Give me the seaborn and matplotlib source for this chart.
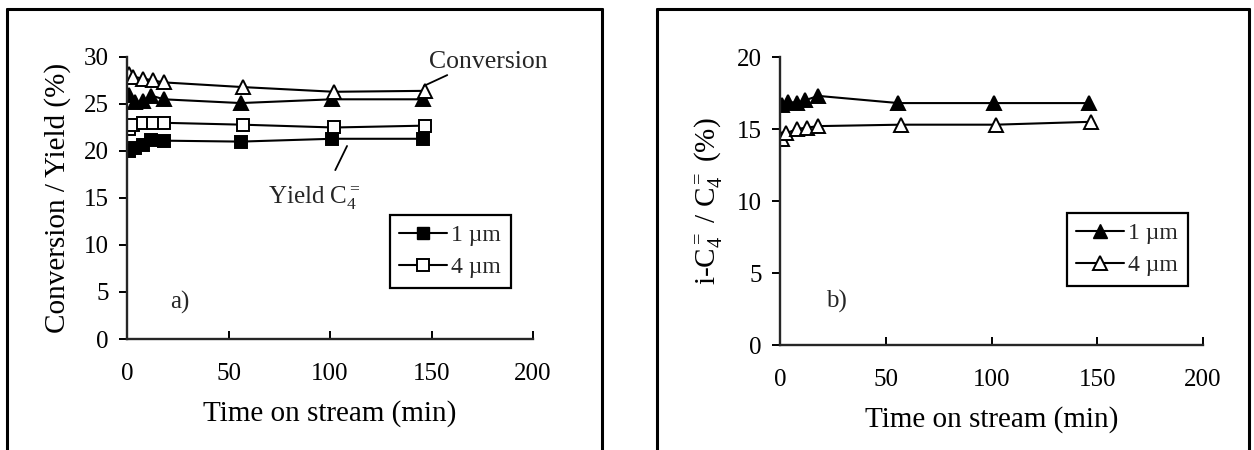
import matplotlib
matplotlib.use("Agg")
import matplotlib.pyplot as plt
import seaborn as sns
import pandas as pd
from matplotlib.lines import Line2D

sns.set_theme(style="ticks")
plt.rcParams['font.family'] = ['Liberation Serif', 'DejaVu Serif']
plt.rcParams['mathtext.fontset'] = 'custom'
plt.rcParams['mathtext.rm'] = 'Liberation Serif'
plt.rcParams['mathtext.it'] = 'Liberation Serif:italic'

# ---- data (panel a) ----
time_1um = [1, 4, 8, 12, 18, 56, 101, 146]
time_4um = [1, 3, 8, 13, 18, 57, 102, 147]
conv_1um = [26.0, 25.2, 25.3, 25.9, 25.5, 25.1, 25.5, 25.5]
conv_4um = [28.2, 27.9, 27.7, 27.5, 27.3, 26.8, 26.3, 26.4]
yield_1um = [20.0, 20.3, 20.6, 21.2, 21.1, 21.0, 21.3, 21.3]
yield_4um = [22.3, 22.8, 23.0, 23.0, 23.0, 22.8, 22.5, 22.7]
# ---- data (panel b) ----
iso_1um = [16.7, 16.9, 16.8, 17.0, 17.3, 16.8, 16.8, 16.8]
iso_4um = [14.3, 14.7, 15.0, 15.1, 15.2, 15.3, 15.3, 15.5]

xticks = [0, 50, 100, 150, 200]
yticks_a = [0, 5, 10, 15, 20, 25, 30]
yticks_b = [0, 5, 10, 15, 20]

W, H = 1254, 450
fig = plt.figure(figsize=(W / 100, H / 100), dpi=100)

def ax_rect(x0, x1, y0, y1):
    return [x0 / W, 1 - y1 / H, (x1 - x0) / W, (y1 - y0) / H]

axa = fig.add_axes(ax_rect(127, 533, 57, 339))
axb = fig.add_axes(ax_rect(780, 1203, 57, 345))

def draw(ax, x, y, marker, filled, ms):
    df = pd.DataFrame({"t": x, "v": y})
    sns.lineplot(data=df, x="t", y="v", ax=ax, color="black", lw=1.5,
                 marker=marker, markersize=ms,
                 markerfacecolor="black" if filled else "white",
                 markeredgecolor="black", markeredgewidth=1.4,
                 legend=False)

draw(axa, time_1um, conv_1um, "^", True, 10)
draw(axa, time_4um, conv_4um, "^", False, 10)
draw(axa, time_1um, yield_1um, "s", True, 9)
draw(axa, time_4um, yield_4um, "s", False, 9)

draw(axb, time_1um, iso_1um, "^", True, 10)
draw(axb, time_4um, iso_4um, "^", False, 10)

for ax, yt in ((axa, yticks_a), (axb, yticks_b)):
    ax.set_xlim(0, 200)
    ax.set_ylim(0, yt[-1])
    ax.set_xticks(xticks)
    ax.set_yticks(yt)
    ax.spines['top'].set_visible(False)
    ax.spines['right'].set_visible(False)
    ax.spines['left'].set_linewidth(1.7)
    ax.spines['bottom'].set_linewidth(1.7)
    ax.tick_params(axis='y', direction='out', length=6, width=1.4, labelsize=18, pad=7, colors='black')
    ax.tick_params(axis='x', direction='in', length=6, width=1.4, labelsize=18, pad=17, colors='black')
    ax.set_xlabel("Time on stream (min)", fontsize=21, labelpad=11, color='black')
    ax.patch.set_alpha(0)

axa.set_ylabel("Conversion / Yield (%)", fontsize=21, labelpad=9, color='black')
axb.set_ylabel("i-C$_4^{=}$ / C$_4^{=}$ (%)", fontsize=21, labelpad=9, color='black')

# annotations panel a
axa.text(178, 29.5, "Conversion", fontsize=18.5, ha='center', va='center')
axa.annotate("", xy=(145, 26.8), xytext=(159, 28.2),
             arrowprops=dict(arrowstyle='-', color='black', lw=1.3))
axa.text(92, 15.0, "Yield C$_4^{=}$", fontsize=18, ha='center', va='center')
axa.annotate("", xy=(109, 20.8), xytext=(102, 17.7),
             arrowprops=dict(arrowstyle='-', color='black', lw=1.3))
axa.text(26, 3.9, "a)", fontsize=18, ha='center', va='center')
axb.text(26.5, 3.0, "b)", fontsize=18, ha='center', va='center')

# legends
def legend(ax, marker, ms, anchor):
    handles = [
        Line2D([], [], color='black', lw=1.5, marker=marker, markersize=ms,
               markerfacecolor='black', markeredgecolor='black'),
        Line2D([], [], color='black', lw=1.5, marker=marker, markersize=ms,
               markerfacecolor='white', markeredgecolor='black', markeredgewidth=1.4),
    ]
    leg = ax.legend(handles, ["1 \u00b5m", "4 \u00b5m"], loc='upper left',
                    bbox_to_anchor=anchor, bbox_transform=fig.transFigure,
                    frameon=True, fancybox=False, fontsize=17, handlelength=2.0,
                    handletextpad=0.2, borderpad=0.4, labelspacing=0.45,
                    borderaxespad=0)
    leg.get_frame().set_edgecolor('black')
    leg.get_frame().set_linewidth(1.6)
    leg.get_frame().set_alpha(1)

legend(axa, 's', 9, (390 / W, 1 - 215 / H))
legend(axb, '^', 10, (1067 / W, 1 - 213 / H))

# outer panel frames (top, left, right; open at the bottom)
for x0, x1 in ((7, 602), (657, 1249)):
    for xs, ys in (([x0, x0], [H, 9]), ([x0, x1], [9, 9]), ([x1, x1], [9, H])):
        fig.add_artist(Line2D([x / W for x in xs], [1 - y / H for y in ys],
                              transform=fig.transFigure, color='black', lw=2.2))

fig.savefig("out.png", dpi=100, facecolor='white')
